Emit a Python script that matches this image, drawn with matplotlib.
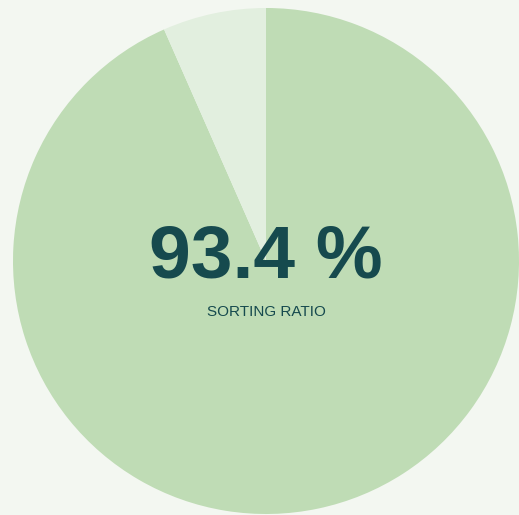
import matplotlib.pyplot as plt

# Sorting ratio share
labels = ["Sorted", "Unsorted"]
shares = [93.4, 6.6]
colors = ["#bfdcb5", "#e2efdf"]

W, H = 519, 515
cx, cy, r = 266, 261, 253

fig = plt.figure(figsize=(W / 100, H / 100), dpi=100, facecolor="#f3f7f1")
ax = fig.add_axes([0, 0, 1, 1])
ax.set_facecolor("#f3f7f1")

ax.pie(shares, colors=colors, startangle=90, counterclock=False, radius=1,
       wedgeprops=dict(linewidth=0))

ax.set_xlim(-cx / r, (W - cx) / r)
ax.set_ylim(-(H - cy) / r, cy / r)
ax.set_aspect("auto")
ax.axis("off")

ax.text(0, 0.01, f"{shares[0]} %", ha="center", va="center",
        fontsize=54, fontweight="bold", color="#164a4e", family="Liberation Sans")
ax.text(0, -0.2, "SORTING RATIO", ha="center", va="center",
        fontsize=11, color="#164a4e", family="Liberation Sans")

fig.savefig("out.png", dpi=100, facecolor=fig.get_facecolor())
